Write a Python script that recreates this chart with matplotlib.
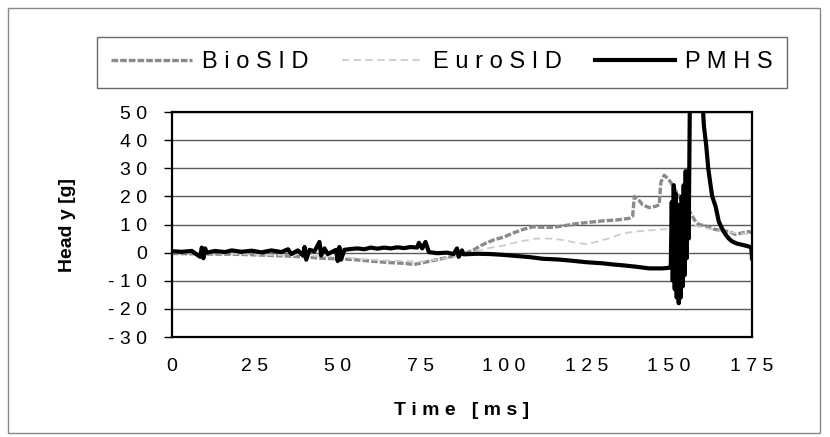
import matplotlib
matplotlib.use("Agg")
import matplotlib.pyplot as plt
from matplotlib.patches import Rectangle

plt.rcParams['font.family'] = ['Liberation Sans', 'DejaVu Sans']

# PMHS (black)
pmhs_t = [0, 3, 6, 8.5, 9, 9.5, 10, 10.5, 13, 16, 18, 21, 24, 27, 30, 33, 35, 36, 38,
          39.5, 40, 40.5, 41.5, 43, 44.5, 45, 46, 47, 49.5, 50, 50.5, 51, 52, 54, 56,
          58, 60, 62, 64, 66, 68, 70, 72, 74, 74.5, 75.5, 76.5, 77.5, 80, 83, 85, 86,
          86.5, 87.5, 88, 92, 96, 100, 104, 108, 112, 116, 120, 125, 130, 133, 136,
          140, 144, 148, 150,
          150.5, 150.8, 151.1, 151.4, 151.7, 152.0, 152.3, 152.6, 152.9, 153.2, 153.5,
          153.8, 154.1, 154.4, 154.7, 155.0, 155.3, 155.6, 155.9, 156.3, 157.5, 159,
          160, 160.5, 161.2, 161.8, 162.5, 163, 164, 165, 166, 167, 168, 169, 170.5,
          172, 174, 174.8, 175]
pmhs_y = [0.5, 0.3, 0.6, -1.5, 1.8, -2, 1.5, 0, 0.6, 0.2, 0.8, 0.3, 0.7, 0.1, 0.8, 0.2,
          1.2, -0.5, 0.8, -1, 2, -2.5, 1, 0.5, 3.8, -1, 1.5, -0.5, 1, -3, 2, -2.5, 1,
          1.3, 1.5, 1.2, 1.8, 1.4, 1.8, 1.5, 1.9, 1.6, 2, 1.8, 3.5, 1.5, 3.8, 0.2, -0.2,
          0, -0.5, 1.5, -1.5, 0.8, -0.6, -0.4, -0.5, -0.8, -1.2, -1.6, -2.2, -2.4, -2.8,
          -3.4, -3.8, -4.2, -4.5, -5.0, -5.6, -5.6, -5.4,
          -5, 18, -10, 24, -13, 21, -16, 17, -18, 14, -16, 20, -12, 24, -8, 29, -2, 22,
          5, 60, 85, 80, 55, 45, 38, 30, 24, 20, 16.5, 11, 8.5, 6.5, 5, 4, 3.2, 2.8,
          2.2, 1.8, -2]

# BioSID (mid grey)
bio_t = [0, 10, 20, 30, 40, 45, 50, 55, 60, 65, 70, 73, 76, 80, 84, 88, 91, 94, 97,
         100, 103, 106, 109, 112, 115, 118, 122, 126, 130, 134, 138, 139, 139.5, 141,
         142, 144, 146, 147, 147.5, 148.5, 149.5, 150.5, 152, 154, 156, 157, 158, 159,
         161, 163, 165, 168, 170, 172, 174, 175]
bio_y = [-0.3, -0.5, -0.6, -1, -1.5, -2, -2.2, -2.5, -3, -3.5, -3.8, -4.2, -3.5, -2.5,
         -1.5, -0.5, 1, 3, 4.5, 5.5, 7, 8.3, 9.2, 9, 9, 9.5, 10.3, 10.8, 11.3, 11.6,
         12.2, 13, 20, 18.5, 17, 16, 16.5, 17, 25, 27.5, 26.5, 25, 22, 18, 15, 13, 11,
         10, 9.5, 8.5, 8, 7.5, 6.5, 7, 7.5, 7]

# EuroSID (light grey)
euro_t = [0, 10, 20, 30, 40, 50, 55, 60, 65, 70, 75, 80, 85, 90, 95, 100, 105, 110,
          114, 118, 122, 125, 128, 131, 134, 137, 140, 145, 150, 153, 156, 158, 162,
          166, 170, 175]
euro_y = [0, -0.3, -0.5, -0.8, -1, -1.5, -2, -2.5, -2.8, -3, -3.2, -2.5, -1.5, 0, 1.5,
          2.5, 4, 5, 5, 4.5, 3.5, 3, 3.8, 4.8, 6, 7, 7.5, 8, 8.5, 9.5, 10, 9.5, 8.5,
          7.5, 7, 6.5]

x_ticks = [0, 25, 50, 75, 100, 125, 150, 175]
y_ticks = [50, 40, 30, 20, 10, 0, -10, -20, -30]


def spaced(s):
    # the scanned excel chart draws every label letter-spaced
    return ' '.join(s)


fig = plt.figure(figsize=(8.3, 4.37), dpi=100)
ax = fig.add_axes([0.2072, 0.2288, 0.6988, 0.5149])

ax.plot(bio_t, bio_y, color='#8a8a8a', lw=2.4, ls=(0, (2, 0.6)), label=spaced('BioSID'))
ax.plot(euro_t, euro_y, color='#cccccc', lw=1.3, ls=(0, (4, 2.5)), label=spaced('EuroSID'))
ax.plot(pmhs_t, pmhs_y, color='black', lw=3, label=spaced('PMHS'))

ax.set_xlim(0, 175)
ax.set_ylim(-30, 50)
ax.set_xticks(x_ticks)
ax.set_xticklabels([spaced(str(v)) for v in x_ticks])
ax.set_yticks(y_ticks)
ax.set_yticklabels([spaced(str(v)) for v in y_ticks])
ax.yaxis.grid(True, color='#5a5a5a', lw=1)
ax.set_axisbelow(True)
ax.tick_params(axis='x', length=0, pad=15, labelsize=14)
ax.tick_params(axis='y', length=6, width=1, pad=12, labelsize=14)
for sp in ax.spines.values():
    sp.set_linewidth(1.6)

ax.set_xlabel(spaced('Time [ms]'), fontsize=14, fontweight='bold')
ax.xaxis.set_label_coords(0.5, -0.29)
ax.set_ylabel('Head y [g]', fontsize=14, fontweight='bold')
ax.yaxis.set_label_coords(-0.165, 0.5)

leg = fig.legend(loc='center', bbox_to_anchor=(0.1157, 0.801, 0.834, 0.112), ncol=3,
                 fontsize=17, frameon=True, fancybox=False, handlelength=3.4,
                 handletextpad=0.45, columnspacing=1.4, borderpad=0.6)
leg.get_frame().set_edgecolor('#444444')
leg.get_frame().set_linewidth(1)

# outer frame around the whole chart
fig.patches.append(Rectangle((0.0096, 0.009), 0.978, 0.9725, transform=fig.transFigure,
                             fill=False, edgecolor='#888888', lw=1))

fig.savefig('out.png', dpi=100)
